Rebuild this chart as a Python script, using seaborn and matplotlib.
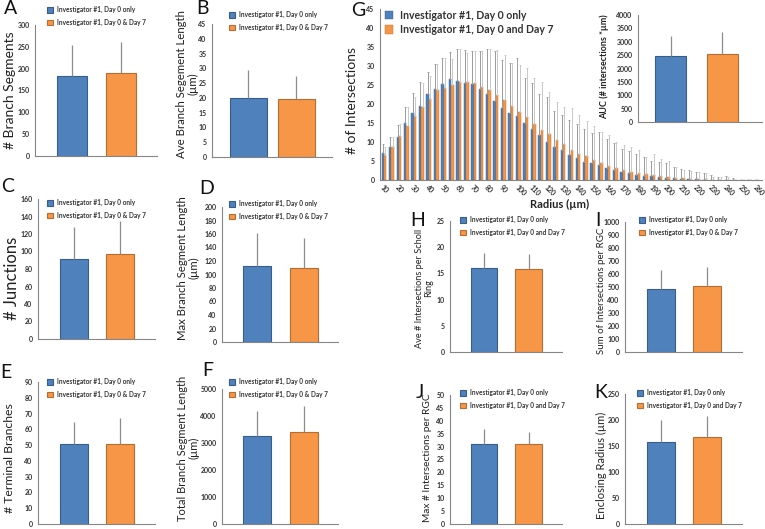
import numpy as np
import pandas as pd
import matplotlib
matplotlib.use("Agg")
import matplotlib.pyplot as plt
from matplotlib.container import BarContainer
import seaborn as sns

# grupos (leyendas)
grupos_amp = ["Investigator #1, Day 0 only", "Investigator #1, Day 0 & Day 7"]
grupos_and = ["Investigator #1, Day 0 only", "Investigator #1, Day 0 and Day 7"]

# paneles pequeños: media y desviación (solo barra superior)
seg_media, seg_de = [184, 191], [70, 71]                 # A
long_media, long_de = [19.8, 19.6], [9.6, 7.7]           # B
junc_media, junc_de = [92, 97], [36, 38]                 # C
maxlong_media, maxlong_de = [112, 110], [49, 44]         # D
term_media, term_de = [51, 51], [13.5, 16]               # E
total_media, total_de = [3270, 3420], [930, 940]         # F
auc_media, auc_de = [2470, 2540], [730, 810]             # G (inserto)
ave_media, ave_de = [16.0, 15.8], [2.9, 2.9]             # H
suma_media, suma_de = [487, 505], [145, 150]             # I
maxint_media, maxint_de = [31.2, 31.1], [5.8, 4.5]       # J
radio_media, radio_de = [157, 167], [43, 41]             # K

# análisis de Sholl (G)
radio = [10, 15, 20, 25, 30, 35, 40, 45, 50, 55, 60, 65, 70, 75, 80, 85, 90,
         95, 100, 105, 110, 115, 120, 125, 130, 135, 140, 145, 150, 155, 160,
         165, 170, 175, 180, 185, 190, 195, 200, 205, 210, 215, 220, 225, 230,
         235, 240, 245, 250, 255, 260]
dia0_media = [7.0, 8.8, 11.2, 15.0, 17.6, 19.6, 22.6, 23.9, 25.3, 26.6, 26.1,
              25.4, 25.3, 24.0, 22.5, 20.8, 19.0, 17.6, 16.9, 15.1, 13.5, 11.8,
              10.0, 8.8, 7.8, 6.5, 5.7, 4.8, 4.5, 4.0, 3.2, 2.5, 2.1, 1.8, 1.4,
              1.1, 1.0, 0.8, 0.6, 0.4, 0.3, 0.2, 0.15, 0.1, 0.1, 0.05, 0.05,
              0.0, 0.0, 0.0, 0.0]
dia0_de = [2.5, 2.6, 3.3, 4.1, 5.2, 6.3, 5.9, 6.6, 6.8, 7.2, 8.5, 8.8, 8.6,
           10.0, 12.1, 13.2, 12.6, 13.3, 15.1, 11.7, 12.0, 10.8, 11.9, 9.3, 9.3,
           9.3, 9.0, 8.6, 7.8, 8.5, 7.6, 7.3, 6.1, 5.8, 5.4, 5.0, 4.1, 3.9, 4.0,
           3.1, 2.5, 2.3, 1.95, 1.7, 1.3, 0.85, 1.05, 0.4, 0.0, 0.0, 0.0]
dia7_media = [6.7, 8.8, 11.7, 14.2, 16.8, 19.2, 21.3, 23.7, 24.3, 25.0, 25.8,
              25.7, 25.5, 24.6, 23.8, 22.4, 21.1, 19.6, 17.9, 16.6, 14.8, 13.2,
              12.1, 10.5, 9.6, 8.0, 6.8, 6.3, 5.3, 4.4, 3.7, 3.2, 2.5, 2.2, 1.8,
              1.5, 1.2, 1.0, 0.7, 0.5, 0.4, 0.3, 0.2, 0.15, 0.1, 0.1, 0.05,
              0.0, 0.0, 0.0, 0.0]
dia7_de = [1.9, 2.4, 3.0, 4.9, 5.0, 6.4, 6.1, 6.8, 7.7, 6.8, 8.6, 7.8, 8.4,
           9.4, 10.6, 11.8, 11.8, 11.1, 12.4, 12.9, 12.0, 12.6, 11.1, 10.1, 9.5,
           10.9, 10.2, 9.3, 8.9, 8.1, 8.1, 6.9, 6.7, 6.5, 6.1, 4.6, 5.6, 4.4,
           4.2, 3.0, 2.2, 2.0, 1.9, 1.65, 0.8, 0.8, 0.65, 0.0, 0.0, 0.0, 0.0]

colores = ["#4F81BD", "#F79646"]
bordes = ["#385D8A", "#B66D31"]
gris = "#868686"

sns.set_theme(style="white")
plt.rcParams["font.family"] = ["Lato", "DejaVu Sans"]

W, H = 765, 529
fig = plt.figure(figsize=(7.65, 5.29), dpi=100)


def rect(x0, y0, x1, y1):
    return [x0 / W, 1 - y1 / H, (x1 - x0) / W, (y1 - y0) / H]


def fp(x, y):
    return (x / W, 1 - y / H)


def barras(ax):
    return [c for c in ax.containers if isinstance(c, BarContainer)]


def estilo(ax, ymax, paso, tam=5):
    ax.set_ylim(0, ymax)
    ax.set_yticks(np.arange(0, ymax + paso / 2, paso))
    sns.despine(ax=ax)
    for s in ["left", "bottom"]:
        ax.spines[s].set_color(gris)
        ax.spines[s].set_linewidth(0.8)
    ax.tick_params(axis="y", length=2, width=0.6, color=gris, pad=2,
                   labelsize=tam, labelcolor="#333333")
    for t in ax.get_yticklabels():
        t.set_fontweight("bold")
    ax.set_xlabel("")
    ax.set_ylabel("")


def leyenda(ax, grupos, x, y, tam=4.7, sep=0.85, caja=0.95):
    handles = [c.patches[0] for c in barras(ax)]
    ax.legend(handles, grupos, loc="upper left", bbox_to_anchor=fp(x, y),
              bbox_transform=fig.transFigure, frameon=False, borderpad=0,
              borderaxespad=0, handlelength=caja, handleheight=caja,
              handletextpad=0.6, labelspacing=sep,
              prop={"size": tam, "weight": "bold"}, labelcolor="#333333")


def barras_dos(ax, medias, des, grupos, ancho):
    df = pd.DataFrame({"grupo": grupos, "valor": medias})
    sns.barplot(data=df, x="grupo", y="valor", hue="grupo", palette=colores,
                saturation=1, width=ancho, legend=False, ax=ax, linewidth=0.8)
    for cont, ec, d in zip(barras(ax), bordes, des):
        b = cont.patches[0]
        b.set_edgecolor(ec)
        ax.errorbar(b.get_x() + b.get_width() / 2, b.get_height(),
                    yerr=[[0], [d]], fmt="none", ecolor="#8c8c8c",
                    elinewidth=0.9, capsize=0)
    ax.set_xticks([])


def panel(caja, medias, des, grupos, ymax, paso, ley, ancho=0.6):
    ax = fig.add_axes(rect(*caja))
    barras_dos(ax, medias, des, grupos, ancho)
    ax.set_xlim(-0.76, 1.74)
    estilo(ax, ymax, paso)
    leyenda(ax, grupos, *ley)
    return ax


# paneles A-F
panel((35, 25, 157, 156), seg_media, seg_de, grupos_amp, 300, 50, (47, 6))
panel((212, 24, 332, 157), long_media, long_de, grupos_amp, 45, 5, (229, 11),
      ancho=0.78)
panel((38, 199, 155, 339), junc_media, junc_de, grupos_amp, 160, 20, (47, 199))
panel((222, 207, 338, 342), maxlong_media, maxlong_de, grupos_amp, 200, 20,
      (229, 200))
panel((38, 382, 155, 524), term_media, term_de, grupos_amp, 90, 10, (47, 378))
panel((222, 389, 338, 524), total_media, total_de, grupos_amp, 5000, 1000,
      (229, 378))

# paneles H-K
panel((450, 221, 562, 352), ave_media, ave_de, grupos_and, 25, 5, (460, 216))
panel((625, 222, 742, 352), suma_media, suma_de, grupos_amp, 1000, 100,
      (639, 216))
panel((450, 395, 562, 524), maxint_media, maxint_de, grupos_and, 50, 5,
      (460, 389))
panel((625, 394, 742, 524), radio_media, radio_de, grupos_and, 250, 50,
      (637, 389))

# panel G: Sholl
axg = fig.add_axes(rect(380, 9, 762, 180))
radio_txt = [str(r) for r in radio]
sholl = pd.DataFrame({
    "radio": radio_txt * 2,
    "valor": dia0_media + dia7_media,
    "grupo": [grupos_and[0]] * len(radio) + [grupos_and[1]] * len(radio),
})
sns.barplot(data=sholl, x="radio", y="valor", hue="grupo", order=radio_txt,
            hue_order=grupos_and, palette=colores, saturation=1, width=0.65,
            legend=False, ax=axg, linewidth=0.3)
for cont, ec, d, ecol in zip(barras(axg), bordes, [dia0_de, dia7_de],
                             ["#9a9a9a", "#c8c8c8"]):
    for b in cont:
        b.set_edgecolor(ec)
    xs = [b.get_x() + b.get_width() / 2 for b in cont]
    ys = [b.get_height() for b in cont]
    axg.errorbar(xs, ys, yerr=[np.zeros(len(d)), d], fmt="none", ecolor=ecol,
                 elinewidth=0.7, capsize=1.0, capthick=0.6)
axg.set_xlim(-0.54, 50.67)
estilo(axg, 45, 5)
axg.set_xticks(range(0, len(radio), 2))
axg.set_xticklabels(radio_txt[::2], rotation=-45, ha="left", va="top",
                    rotation_mode="anchor", fontsize=5, fontweight="bold",
                    color="#333333")
axg.tick_params(axis="x", length=0, pad=3)
leyenda(axg, grupos_and, 385, 10, tam=7.6, sep=0.3, caja=0.8)

# inserto AUC
axi = fig.add_axes(rect(638, 15, 762, 122))
axi.set_facecolor("white")
barras_dos(axi, auc_media, auc_de, grupos_and, 0.6)
axi.set_xlim(-0.64, 1.77)
estilo(axi, 4000, 500)


# etiquetas de ejes
def rotulo(x, y, txt, tam, peso="normal", interl=1.0):
    fig.text(*fp(x, y), txt, rotation=90, ha="center", va="center",
             fontsize=tam, fontweight=peso, color="#222222",
             linespacing=interl, multialignment="center")


rotulo(10, 90, "# Branch Segments", 10)
rotulo(187, 84, "Ave Branch Segement Length\n(µm)", 8.2)
rotulo(12, 278, "# Junctions", 12)
rotulo(188, 268, "Max Branch Segment Length\n(µm)", 8.2)
rotulo(10, 458, "# Terminal Branches", 8.8)
rotulo(188, 448, "Total Branch Segment Length\n(µm)", 8.0)
rotulo(352, 100, "# of Intersections", 10)
rotulo(604, 67, "AUC (# intersections *µm)", 6.5, peso="bold")
rotulo(424, 288, "Ave # Intersections per Scholl\nRing", 6.6)
rotulo(601, 291, "Sum of Intersections per RGC", 7.0)
rotulo(428, 458, "Max # Intersections per RGC", 7.3)
rotulo(601, 465, "Enclosing Radius (µm)", 8.0)
fig.text(*fp(560, 204), "Radius (µm)", ha="center", va="center",
         fontsize=8, fontweight="bold", color="#222222")

# letras de panel
letras = {"A": (11, 8), "B": (203, 9), "G": (358, 10), "C": (8, 187),
          "D": (207, 188), "E": (6, 372), "F": (208, 371), "H": (418, 221),
          "I": (598, 221), "J": (420, 393), "K": (601, 393)}
for letra, (x, y) in letras.items():
    fig.text(*fp(x, y), letra, ha="center", va="center", fontsize=14,
             color="#111111")

fig.savefig("out.png", dpi=100)
